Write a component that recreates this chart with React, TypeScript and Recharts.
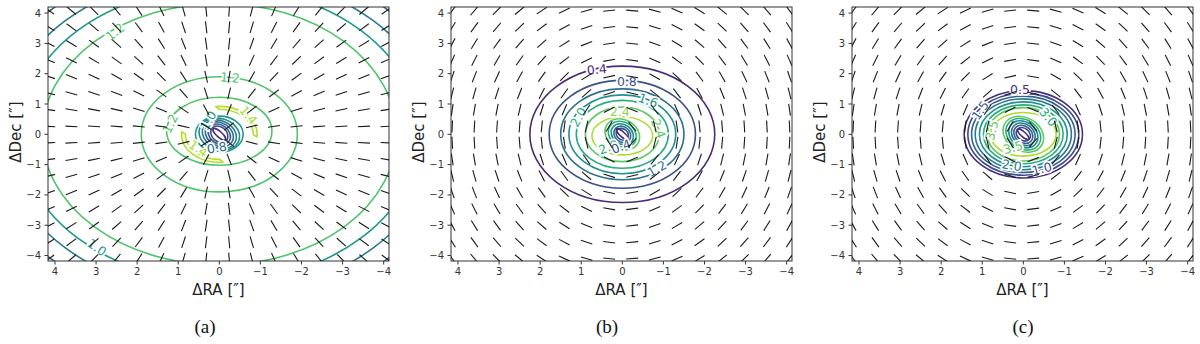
import React from 'react'
import { ScatterChart, Scatter, XAxis, YAxis, ReferenceArea } from 'recharts'

// axes
const raTicks = [4, 3, 2, 1, 0, -1, -2, -3, -4]
const decTicks = [-4, -3, -2, -1, 0, 1, 2, 3, 4]
const raDomain: [number, number] = [-4.13, 4.17]
const decDomain: [number, number] = [-4.18, 4.2]

// polarisation vector grid (arcsec)
const gridRA = [4.14, 3.6, 3.05, 2.5, 1.96, 1.41, 0.87, 0.32, -0.24, -0.79, -1.33, -1.88, -2.43, -2.97, -3.52, -4.07]
const gridDec = [4.08, 3.53, 2.99, 2.44, 1.9, 1.35, 0.81, 0.26, -0.28, -0.83, -1.37, -1.92, -2.46, -3.01, -3.56, -4.1]

type Contour = { rx: number; ry: number; x0?: number; y0?: number; rot?: number; arc?: [number, number]; inner?: number; color: string }
type CLabel = { ra: number; dec: number; text: string; rot: number; color: string }

// panel (a) contours, radii in arcsec
const contoursA: Contour[] = [
  { rx: 5.8, ry: 5.8, color: '#3a5e8c' },
  { rx: 5.3, ry: 5.3, color: '#297b8e' },
  { rx: 4.86, ry: 4.86, color: '#1f9a8a' },
  { rx: 4.31, ry: 4.31, color: '#4fc46a' },
  { rx: 1.9, ry: 1.9, color: '#4fc46a' },
  { rx: 1.28, ry: 1.12, y0: 0.1, color: '#4fc46a' },
  { rx: 0.92, ry: 0.92, arc: [-5, 95], inner: 0.9, color: '#b5de2b' },
  { rx: 0.92, ry: 0.92, arc: [175, 275], inner: 0.9, color: '#b5de2b' },
  { rx: 0.58, ry: 0.6, color: '#1f9a8a' },
  { rx: 0.5, ry: 0.52, rot: 15, color: '#23898e' },
  { rx: 0.43, ry: 0.45, rot: 25, color: '#297a8e' },
  { rx: 0.36, ry: 0.38, rot: 30, color: '#2f6b8e' },
  { rx: 0.29, ry: 0.31, rot: 35, color: '#365c8d' },
  { rx: 0.23, ry: 0.24, rot: 40, color: '#3e4a89' },
  { rx: 0.2, ry: 0.09, rot: 42, color: '#472d7b' },
]
const labelsA: CLabel[] = [
  { ra: 2.54, dec: 3.38, text: '1.2', rot: -38, color: '#4fc46a' },
  { ra: -0.26, dec: 1.87, text: '1.2', rot: 5, color: '#4fc46a' },
  { ra: 1.2, dec: 0.35, text: '1.2', rot: -65, color: '#4fc46a' },
  { ra: -0.71, dec: 0.63, text: '1.4', rot: 50, color: '#a8db34' },
  { ra: 0.51, dec: -0.47, text: '1.4', rot: 35, color: '#a8db34' },
  { ra: 0.27, dec: 0.46, text: '1.0', rot: -60, color: '#1f9a8a' },
  { ra: 0.06, dec: -0.44, text: '0.8', rot: -10, color: '#2f6b8e' },
  { ra: 2.98, dec: -3.73, text: '1.0', rot: 35, color: '#1f9a8a' },
]

// panel (b)
const contoursB: Contour[] = [
  { rx: 2.25, ry: 2.25, color: '#472c7a' },
  { rx: 1.78, ry: 1.78, color: '#3b518b' },
  { rx: 1.5, ry: 1.5, color: '#2c718e' },
  { rx: 1.3, ry: 1.3, color: '#21908d' },
  { rx: 1.12, ry: 1.12, color: '#27ad81' },
  { rx: 0.9, ry: 0.9, color: '#5ec962' },
  { rx: 0.74, ry: 0.63, y0: -0.05, color: '#addc30' },
  { rx: 0.44, ry: 0.48, rot: 30, color: '#5ec962' },
  { rx: 0.36, ry: 0.4, rot: 35, color: '#27ad81' },
  { rx: 0.29, ry: 0.32, rot: 38, color: '#21908d' },
  { rx: 0.22, ry: 0.25, rot: 40, color: '#2c718e' },
  { rx: 0.16, ry: 0.18, rot: 40, color: '#3b518b' },
  { rx: 0.19, ry: 0.08, rot: 42, color: '#472c7a' },
]
const labelsB: CLabel[] = [
  { ra: 0.62, dec: 2.14, text: '0.4', rot: -5, color: '#472c7a' },
  { ra: -0.11, dec: 1.73, text: '0.8', rot: 0, color: '#3b518b' },
  { ra: -0.63, dec: 1.12, text: '1.6', rot: 20, color: '#21908d' },
  { ra: 1.07, dec: 0.57, text: '2.0', rot: -60, color: '#27ad81' },
  { ra: 0.06, dec: 0.74, text: '2.4', rot: 0, color: '#8fd744' },
  { ra: -0.88, dec: 0.19, text: '2.4', rot: 70, color: '#5ec962' },
  { ra: -0.84, dec: -1.13, text: '1.2', rot: -30, color: '#2c718e' },
  { ra: 0.34, dec: -0.42, text: '2.0', rot: -20, color: '#27ad81' },
  { ra: 0.03, dec: -0.4, text: '0.4', rot: -20, color: '#3b518b' },
]

// panel (c)
const contoursC: Contour[] = [
  { rx: 1.44, ry: 1.44, color: '#46307e' },
  { rx: 1.35, ry: 1.35, color: '#3f4889' },
  { rx: 1.26, ry: 1.26, color: '#34608d' },
  { rx: 1.17, ry: 1.17, color: '#2a788e' },
  { rx: 1.07, ry: 1.07, color: '#21908d' },
  { rx: 0.97, ry: 0.97, color: '#27ad81' },
  { rx: 0.88, ry: 0.88, color: '#5ec962' },
  { rx: 0.8, ry: 0.72, color: '#addc30' },
  { rx: 0.52, ry: 0.55, rot: 30, color: '#5ec962' },
  { rx: 0.45, ry: 0.48, rot: 33, color: '#27ad81' },
  { rx: 0.38, ry: 0.41, rot: 36, color: '#21908d' },
  { rx: 0.31, ry: 0.34, rot: 38, color: '#2a788e' },
  { rx: 0.25, ry: 0.27, rot: 40, color: '#34608d' },
  { rx: 0.19, ry: 0.2, rot: 40, color: '#3f4889' },
  { rx: 0.18, ry: 0.08, rot: 42, color: '#46307e' },
]
const labelsC: CLabel[] = [
  { ra: 0.08, dec: 1.48, text: '0.5', rot: 0, color: '#46307e' },
  { ra: 1.05, dec: 0.79, text: '1.5', rot: -55, color: '#34608d' },
  { ra: -0.61, dec: 0.57, text: '3.0', rot: 50, color: '#27ad81' },
  { ra: 0.77, dec: 0.13, text: '3.5', rot: -75, color: '#5ec962' },
  { ra: 0.25, dec: -0.43, text: '3.5', rot: -15, color: '#5ec962' },
  { ra: 0.28, dec: -1.02, text: '2.0', rot: 10, color: '#2a788e' },
  { ra: -0.45, dec: -1.13, text: '1.0', rot: -15, color: '#3f4889' },
]

const FONT = 'DejaVu Sans'
const PLOT_W = 341
const PLOT_H = 254
const PLOT_TOP = 7
const KX = PLOT_W / (raDomain[1] - raDomain[0])
const KY = PLOT_H / (decDomain[1] - decDomain[0])
const SEG = 12

const gridPoints = gridDec.flatMap((dec) => gridRA.map((ra) => ({ ra, dec })))

const fmt = (v: number) => (v < 0 ? `\u2212${Math.abs(v)}` : `${v}`)

function contourShape(c: Contour) {
  return (p: any) => {
    const w = Math.abs(Number(p.width))
    const h = Math.abs(Number(p.height))
    const cx = Number(p.x) + w / 2
    const cy = Number(p.y) + h / 2
    const rx = w / 2
    const ry = h / 2
    let el: React.ReactElement
    if (c.arc) {
      const [a0, a1] = c.arc
      const pt = (a: number, k: number) => {
        const t = (a * Math.PI) / 180
        return `${cx + rx * k * Math.cos(t)},${cy - ry * k * Math.sin(t)}`
      }
      const large = a1 - a0 > 180 ? 1 : 0
      let d = `M${pt(a0, 1)} A${rx},${ry} 0 ${large} 0 ${pt(a1, 1)}`
      if (c.inner) {
        const k = c.inner
        d += ` L${pt(a1 - 4, k)} A${rx * k},${ry * k} 0 ${large} 1 ${pt(a0 + 4, k)} Z`
      }
      el = <path d={d} fill="none" stroke={c.color} strokeWidth={1.6} />
    } else {
      el = (
        <ellipse
          cx={cx}
          cy={cy}
          rx={rx}
          ry={ry}
          fill="none"
          stroke={c.color}
          strokeWidth={1.6}
          transform={c.rot ? `rotate(${c.rot} ${cx} ${cy})` : undefined}
        />
      )
    }
    return <g clipPath={p.clipPath}>{el}</g>
  }
}

const frameShape = (p: any) => (
  <rect x={p.x} y={p.y} width={p.width} height={p.height} fill="none" stroke="#333" strokeWidth={1} />
)

const labelShape = (p: any) => {
  const d = p.payload as CLabel
  return (
    <text
      x={p.cx}
      y={p.cy}
      transform={`rotate(${d.rot} ${p.cx} ${p.cy})`}
      textAnchor="middle"
      dominantBaseline="central"
      fontSize={12.5}
      fontFamily={FONT}
      fill={d.color}
      stroke="#fff"
      strokeWidth={3.5}
      paintOrder="stroke"
    >
      {d.text}
    </text>
  )
}

function quiverShape(field: 'radial' | 'tangential') {
  return (p: any) => {
    const { ra, dec } = p.payload
    let ux = -ra * KX
    let uy = -dec * KY
    const n = Math.hypot(ux, uy) || 1
    ux /= n
    uy /= n
    if (field === 'tangential') {
      const t = ux
      ux = -uy
      uy = t
    }
    const hx = (ux * SEG) / 2
    const hy = (uy * SEG) / 2
    return <line x1={p.cx - hx} y1={p.cy - hy} x2={p.cx + hx} y2={p.cy + hy} stroke="#1a1a1a" strokeWidth={1.1} />
  }
}

type PanelCfg = {
  left: number
  plotLeft: number
  contours: Contour[]
  labels: CLabel[]
  field: 'radial' | 'tangential'
  caption: string
  captionX: number
}

const panels: PanelCfg[] = [
  { left: 0, plotLeft: 48, contours: contoursA, labels: labelsA, field: 'radial', caption: '(a)', captionX: 205 },
  { left: 400, plotLeft: 51, contours: contoursB, labels: labelsB, field: 'tangential', caption: '(b)', captionX: 607 },
  { left: 800, plotLeft: 52, contours: contoursC, labels: labelsC, field: 'tangential', caption: '(c)', captionX: 1023 },
]

function Panel({ cfg }: { cfg: PanelCfg }) {
  const yw = 40
  const xh = 30
  const margin = {
    top: PLOT_TOP,
    left: cfg.plotLeft - yw,
    right: 400 - cfg.plotLeft - PLOT_W,
    bottom: 344 - PLOT_TOP - PLOT_H - xh,
  }
  const tick = { fontSize: 10, fill: '#333', fontFamily: FONT }
  return (
    <div style={{ position: 'absolute', left: cfg.left, top: 0 }}>
      <ScatterChart width={400} height={344} margin={margin}>
        <XAxis
          type="number"
          dataKey="ra"
          domain={raDomain}
          reversed
          allowDataOverflow
          ticks={raTicks}
          interval={0}
          tickFormatter={fmt}
          tickSize={3.5}
          tickMargin={3.5}
          height={xh}
          axisLine={false}
          tickLine={{ stroke: '#333' }}
          tick={tick}
        />
        <YAxis
          type="number"
          dataKey="dec"
          domain={decDomain}
          allowDataOverflow
          ticks={decTicks}
          interval={0}
          tickFormatter={fmt}
          tickSize={3.5}
          tickMargin={3.5}
          width={yw}
          axisLine={false}
          tickLine={{ stroke: '#333' }}
          tick={tick}
        />
        {cfg.contours.map((c, i) => (
          <ReferenceArea
            key={i}
            x1={(c.x0 ?? 0) - c.rx}
            x2={(c.x0 ?? 0) + c.rx}
            y1={(c.y0 ?? 0) - c.ry}
            y2={(c.y0 ?? 0) + c.ry}
            ifOverflow="hidden"
            shape={contourShape(c)}
          />
        ))}
        <ReferenceArea
          x1={raDomain[0]}
          x2={raDomain[1]}
          y1={decDomain[0]}
          y2={decDomain[1]}
          ifOverflow="visible"
          shape={frameShape}
        />
        <Scatter data={cfg.labels} shape={labelShape} isAnimationActive={false} />
        <Scatter data={gridPoints} shape={quiverShape(cfg.field)} isAnimationActive={false} />
      </ScatterChart>
    </div>
  )
}

export default function App() {
  const midY = PLOT_TOP + PLOT_H / 2
  return (
    <div style={{ position: 'absolute', left: 0, top: 0, width: 1200, height: 344, background: '#fff' }}>
      {panels.map((p, i) => (
        <Panel key={i} cfg={p} />
      ))}
      <svg
        width={1200}
        height={344}
        style={{ position: 'absolute', left: 0, top: 0, pointerEvents: 'none' }}
      >
        {panels.map((p, i) => {
          const px = p.left + p.plotLeft
          return (
            <g key={i}>
              <text x={px + PLOT_W / 2} y={295} textAnchor="middle" fontSize={15} fontFamily={FONT} fill="#222">
                ΔRA [″]
              </text>
              <text
                x={px - 27}
                y={midY - 2}
                textAnchor="middle"
                fontSize={15}
                fontFamily={FONT}
                fill="#222"
                transform={`rotate(-90 ${px - 27} ${midY - 2})`}
              >
                ΔDec [″]
              </text>
              <text x={p.captionX} y={333} textAnchor="middle" fontSize={19} fontFamily="Liberation Serif, Times New Roman, serif" fill="#111">
                {p.caption}
              </text>
            </g>
          )
        })}
      </svg>
    </div>
  )
}
